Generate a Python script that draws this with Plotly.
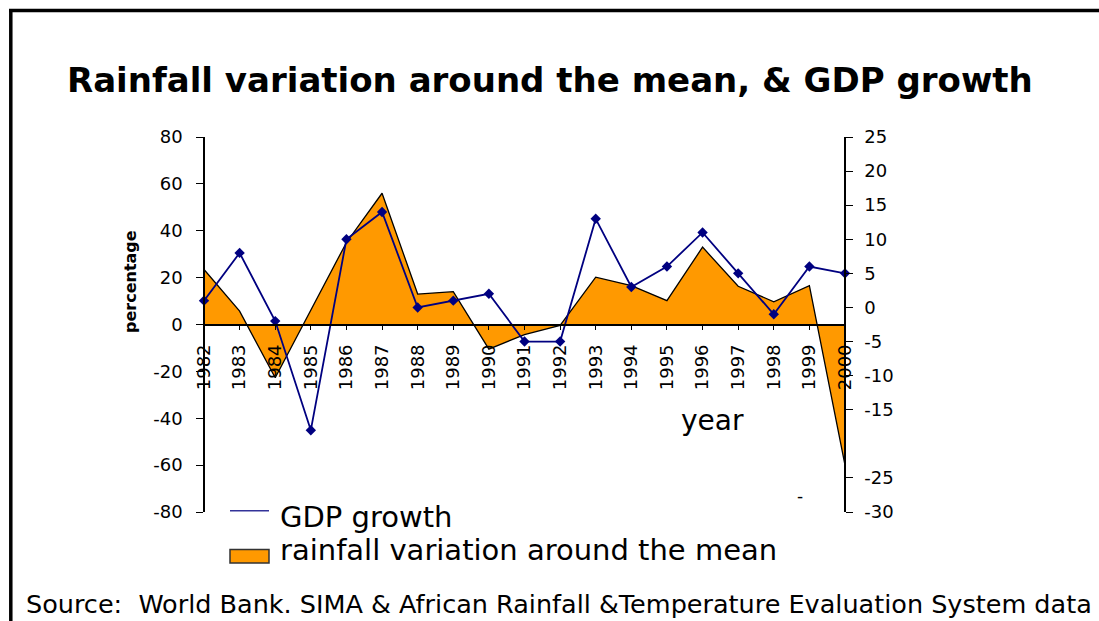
import plotly.graph_objects as go

# ---- data -------------------------------------------------------------
years = list(range(1982, 2001))
year_labels = [str(y) for y in years]

# rainfall variation around the mean (%), left axis
rainfall = [23.5, 5.7, -22.7, 6, 35, 56, 13, 14, -10.5, -4.3, -0.4,
            20.2, 16.6, 10.2, 33, 16.3, 9.7, 16.6, -60]

# GDP growth (%), right axis
gdp = [1, 8, -2, -18, 10, 14, 0, 1, 2, -5, -5,
       13, 3, 6, 11, 5, -1, 6, 5]

left_ticks = [80, 60, 40, 20, 0, -20, -40, -60, -80]
right_ticks = [25, 20, 15, 10, 5, 0, -5, -10, -15, -25, -30]

# ---- layout geometry (pixels) ----------------------------------------
W, H = 1099, 621
ML, MR, MT, MB = 204, 254, 137, 109
PW, PH = W - ML - MR, H - MT - MB


def fx(px):
    return (px - ML) / PW


def fy(py):
    return (H - MB - py) / PH


FONT = "DejaVu Sans, Liberation Sans, Arial, sans-serif"
ORANGE = "#FF9900"
NAVY = "#000080"

fig = go.Figure()

fig.add_trace(go.Scatter(
    x=years, y=rainfall, mode="lines", fill="tozeroy",
    fillcolor=ORANGE, line=dict(color="black", width=1.3),
    xaxis="x", yaxis="y", showlegend=False, hoverinfo="skip",
))

fig.add_trace(go.Scatter(
    x=years, y=gdp, mode="lines+markers",
    line=dict(color=NAVY, width=1.8),
    marker=dict(symbol="diamond", size=8, color=NAVY),
    xaxis="x", yaxis="y2", showlegend=False, cliponaxis=False,
))

tickfont = dict(family=FONT, size=18, color="black")

fig.update_layout(
    width=W, height=H,
    margin=dict(l=ML, r=MR, t=MT, b=MB, pad=0),
    paper_bgcolor="white", plot_bgcolor="white",
    showlegend=False,
    xaxis=dict(
        range=[years[0], years[-1]],
        tickvals=years, ticktext=year_labels, tickangle=-90,
        anchor="free", position=0.5,
        showline=True, linecolor="black", linewidth=1.5,
        ticks="outside", ticklen=5, tickcolor="black", tickwidth=1,
        showgrid=False, zeroline=False, layer="above traces",
        tickfont=tickfont, ticklabelstandoff=7, automargin=False,
    ),
    yaxis=dict(
        range=[-80, 80], tickvals=left_ticks,
        ticktext=[str(v) for v in left_ticks],
        anchor="free", position=0, side="left",
        showline=True, linecolor="black", linewidth=1.5,
        ticks="outside", ticklen=7, tickcolor="black", tickwidth=1,
        showgrid=False, zeroline=False,
        tickfont=tickfont, ticklabelstandoff=10, automargin=False,
    ),
    yaxis2=dict(
        range=[-30, 25], tickvals=right_ticks,
        ticktext=[str(v) for v in right_ticks],
        overlaying="y", side="right", anchor="free", position=1,
        showline=True, linecolor="black", linewidth=1.5,
        ticks="outside", ticklen=7, tickcolor="black", tickwidth=1,
        showgrid=False, zeroline=False,
        tickfont=tickfont, ticklabelstandoff=8, automargin=False,
    ),
    yaxis3=dict(
        range=[-30, 25], tickvals=right_ticks,
        overlaying="y", side="right", anchor="free", position=1,
        showline=False, showticklabels=False,
        ticks="inside", ticklen=7, tickcolor="black", tickwidth=1,
        showgrid=False, zeroline=False, automargin=False,
    ),
)

LEG = 29
annotations = [
    dict(text="<b>Rainfall variation around the mean, & GDP growth</b>",
         x=fx(550), y=fy(80), xanchor="center", yanchor="middle",
         font=dict(family=FONT, size=34, color="black")),
    dict(text="<b>percentage</b>", textangle=-90,
         x=fx(130), y=fy(282), xanchor="center", yanchor="middle",
         font=dict(family=FONT, size=16, color="black")),
    dict(text="year", x=fx(712), y=fy(420), xanchor="center", yanchor="middle",
         font=dict(family=FONT, size=28, color="black")),
    dict(text="-", x=fx(800), y=fy(496), xanchor="center", yanchor="middle",
         font=dict(family=FONT, size=17, color="black")),
    dict(text="GDP growth", x=fx(278), y=fy(517), xanchor="left", yanchor="middle",
         font=dict(family=FONT, size=LEG, color="black")),
    dict(text="rainfall variation around the mean", x=fx(278), y=fy(550),
         xanchor="left", yanchor="middle",
         font=dict(family=FONT, size=LEG, color="black")),
    dict(text="Source:  World Bank. SIMA & African Rainfall &Temperature Evaluation System data",
         x=fx(24), y=fy(604), xanchor="left", yanchor="middle",
         font=dict(family=FONT, size=25.5, color="black")),
]
for a in annotations:
    a.update(xref="paper", yref="paper", showarrow=False)
fig.update_layout(annotations=annotations)

shapes = [
    # legend keys
    dict(type="line", x0=fx(230), x1=fx(269), y0=fy(510.7), y1=fy(510.7),
         line=dict(color="#333399", width=1.5)),
    dict(type="rect", x0=fx(230), x1=fx(269), y0=fy(563), y1=fy(549.5),
         fillcolor=ORANGE, line=dict(color="#333333", width=1.5)),
    # outer frame (top and left edges)
    dict(type="line", x0=fx(9), x1=fx(1105), y0=fy(10.5), y1=fy(10.5),
         line=dict(color="black", width=3.5)),
    dict(type="line", x0=fx(10.8), x1=fx(10.8), y0=fy(9), y1=fy(630),
         line=dict(color="black", width=3.5)),
]
for s in shapes:
    s.update(xref="paper", yref="paper", layer="above")
fig.update_layout(shapes=shapes)

fig.write_html("out.html")
